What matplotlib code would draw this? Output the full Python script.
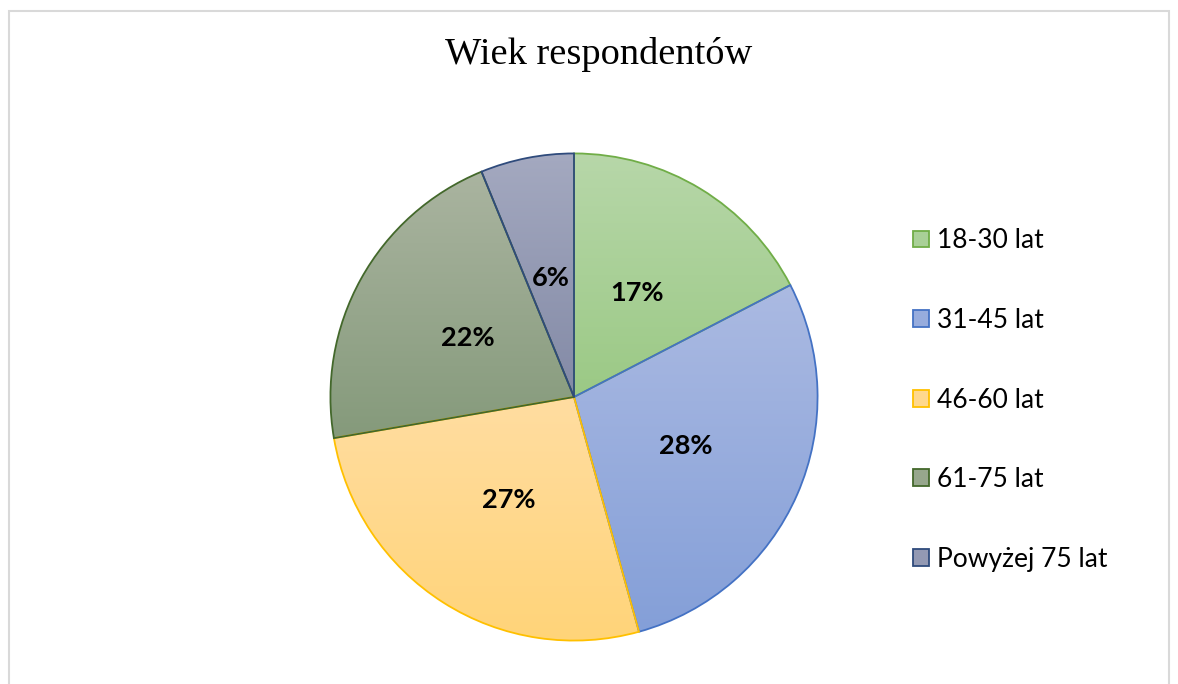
import numpy as np
import matplotlib
matplotlib.use("Agg")
import matplotlib.pyplot as plt
from matplotlib.colors import LinearSegmentedColormap
from matplotlib.patches import Patch, Rectangle

# data (shares, labels shown rounded)
labels = ["18-30 lat", "31-45 lat", "46-60 lat", "61-75 lat", "Powyżej 75 lat"]
values = [17.4, 28.3, 26.6, 21.5, 6.2]

# gradient top / bottom colours and outline per slice
top_colors = ["#B7D7A9", "#ABBAE2", "#FFDDA1", "#AAB4A0", "#A4A9C0"]
bottom_colors = ["#9BC985", "#849FD8", "#FFD479", "#859A7B", "#838AA6"]
edge_colors = ["#70AD47", "#4472C4", "#FFC000", "#43682B", "#2F4B7C"]

W, H = 1178, 684
fig = plt.figure(figsize=(W / 100, H / 100), dpi=100)
fig.patch.set_facecolor("white")

# chart area border
fig.patches.append(Rectangle((9 / W, -0.1), (1169 - 9) / W, 1 - 11 / H + 0.1,
                             transform=fig.transFigure, fill=False,
                             edgecolor="#D9D9D9", linewidth=1.5))

cx, cy, r = 574, 397, 246
ax = fig.add_axes([(cx - r) / W, (H - cy - r) / H, 2 * r / W, 2 * r / H])

wedges, texts, autotexts = ax.pie(
    values, startangle=90, counterclock=False, autopct="%.0f%%",
    pctdistance=0.5, radius=1,
    wedgeprops=dict(linewidth=1.3),
    textprops=dict(fontsize=19.5, fontweight="bold", family=["Lato", "DejaVu Sans"], color="black"))

grad = np.linspace(0, 1, 256)[:, None]
for w, tc, bc, ec in zip(wedges, top_colors, bottom_colors, edge_colors):
    w.set_facecolor("none")
    w.set_edgecolor(ec)
    ext = w.get_path().get_extents()
    cmap = LinearSegmentedColormap.from_list("g", [tc, bc])
    im = ax.imshow(grad, cmap=cmap, extent=[ext.x0, ext.x1, ext.y0, ext.y1],
                   origin="upper", aspect="auto", zorder=0.5, interpolation="bilinear")
    im.set_clip_path(w)

for t in autotexts:
    t.set_zorder(5)

ax.set_xlim(-1.01, 1.01)
ax.set_ylim(-1.01, 1.01)
ax.set_aspect("equal")
ax.axis("off")

fig.text(599 / W, 1 - 55 / H, "Wiek respondentów", ha="center", va="center",
         fontsize=27.6, family=["Liberation Serif", "DejaVu Serif"])

handles = [Patch(facecolor=LinearSegmentedColormap.from_list("g", [tc, bc])(0.5),
                 edgecolor=ec, linewidth=1.3)
           for tc, bc, ec in zip(top_colors, bottom_colors, edge_colors)]
fig.legend(handles, labels, loc="center left", bbox_to_anchor=(913 / W, 1 - 400 / H),
           frameon=False, borderpad=0, borderaxespad=0, handlelength=0.6,
           handleheight=0.6, handletextpad=0.3, labelspacing=2.07,
           prop=dict(family=["Lato", "DejaVu Sans"], size=19))

fig.savefig("out.png", dpi=100, facecolor="white")
